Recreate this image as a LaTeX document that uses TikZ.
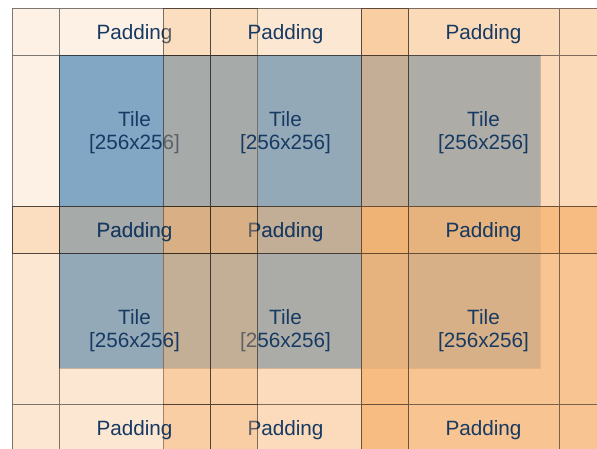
\documentclass[tikz,border=0pt]{standalone}
\usepackage{fontspec}
\setmainfont{Liberation Sans}
\definecolor{PadOrange}{RGB}{246,180,115}
\definecolor{ImgBlue}{RGB}{103,165,217}
\definecolor{LabelNavy}{RGB}{23,58,99}

\begin{document}
\begin{tikzpicture}[x=1pt,y=-1pt,
  padfill/.style={fill=PadOrange},
  cellline/.style={draw=black,draw opacity=0.5,line width=0.8pt},
  lbl/.style={text=LabelNavy,font=\fontsize{20.7}{23.5}\selectfont,align=center,inner sep=0pt}]
  \useasboundingbox (0,0) rectangle (597,448);
  \clip (0,0) rectangle (597,448);
  % image area under the tiles
  \fill[ImgBlue] (59,55) rectangle (540,368);
  \draw[cellline,draw opacity=0.3] (59,55) rectangle (540,368);
  % padded tiles: left, top, fill opacity
  \foreach \px/\py/\op [count=\k] in {12/8/0.19, 163/8/0.32, 361/8/0.49, 163/206/0.48, 361/206/0.79, 12/206/0.32}{
    \fill[padfill,fill opacity=\op] (\px,\py) rectangle ++(245,245);
    \draw[cellline] (\px,\py) rectangle ++(245,245)
      (\px+47,\py) -- ++(0,245) (\px+198,\py) -- ++(0,245)
      (\px,\py+47) -- ++(245,0) (\px,\py+198) -- ++(245,0);
    \node[lbl] (pad-top-\k) at (\px+122.5,\py+26.5) {Padding};
    \node[lbl] (tile-\k) at (\px+122.5,\py+124.5) {Tile\\{[256x256]}};
    \node[lbl] (pad-bot-\k) at (\px+122.5,\py+224.5) {Padding};
  }
\end{tikzpicture}
\end{document}
